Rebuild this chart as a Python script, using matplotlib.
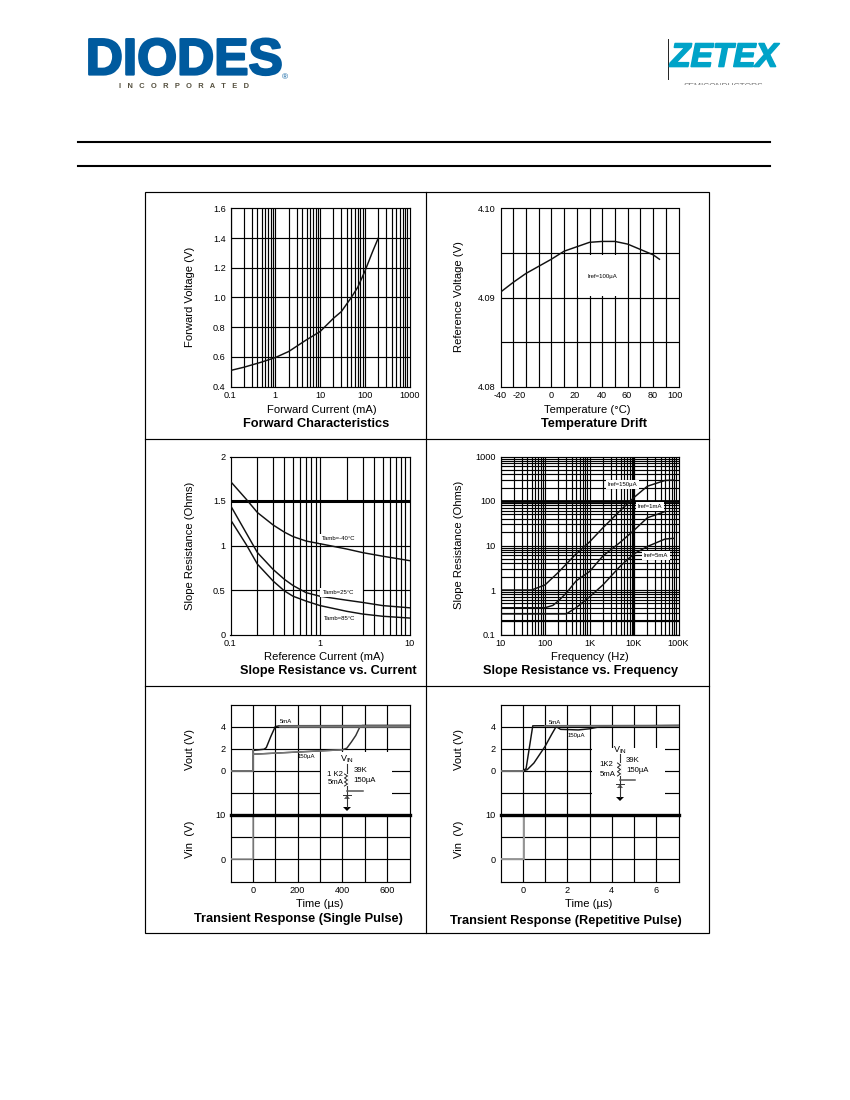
import matplotlib
matplotlib.use('Agg')
import matplotlib.pyplot as plt
import matplotlib.patheffects as pe
from matplotlib.patches import Rectangle, Polygon

plt.rcParams['font.family'] = ['Liberation Sans', 'DejaVu Sans']

# forward characteristics
fwd_i = [0.1, 0.2, 0.5, 1, 2, 5, 10, 20, 30, 50, 70, 100, 150, 200]
fwd_v = [0.508, 0.53, 0.565, 0.595, 0.636, 0.715, 0.77, 0.86, 0.905, 1.0, 1.07, 1.175, 1.31, 1.40]

# temperature drift
temp_t = [-40, -30, -20, -10, 0, 10, 20, 30, 40, 50, 60, 70, 80, 85]
temp_v = [4.0906, 4.0917, 4.0927, 4.0935, 4.0943, 4.0952, 4.0957, 4.0962, 4.0963, 4.0963,
          4.096, 4.0954, 4.0948, 4.0943]

# slope resistance vs current
sc_i = [0.1, 0.15, 0.2, 0.3, 0.4, 0.5, 0.7, 1, 2, 3, 5, 10]
sc_m40 = [1.72, 1.52, 1.37, 1.23, 1.15, 1.10, 1.05, 1.02, 0.96, 0.92, 0.88, 0.83]
sc_25 = [1.45, 1.14, 0.92, 0.73, 0.62, 0.55, 0.47, 0.43, 0.385, 0.36, 0.325, 0.30]
sc_85 = [1.29, 1.01, 0.79, 0.60, 0.49, 0.43, 0.375, 0.325, 0.26, 0.23, 0.205, 0.185]

# slope resistance vs frequency
sf_f1 = [10, 50, 100, 200, 500, 1000, 2000, 5000, 10000, 20000, 50000, 80000]
sf_150u = [1, 1, 1.3, 2.5, 6.5, 12, 25, 62, 120, 215, 290, 295]
sf_f2 = [10, 100, 150, 200, 300, 500, 1000, 2000, 5000, 10000, 20000, 50000]
sf_1m = [0.4, 0.4, 0.45, 0.57, 0.85, 1.6, 2.6, 5.8, 12, 22, 42, 58]
sf_f3 = [10, 300, 500, 1000, 2000, 5000, 10000, 20000, 50000, 80000]
sf_5m = [0.29, 0.29, 0.4, 0.7, 1.3, 3.5, 6.5, 9.5, 14, 14.5]

# single pulse
sp_t1 = [-100, 0, 0, 50, 60, 80, 100, 120, 700]
sp_5m = [0, 0, 1.85, 1.95, 2.1, 3.1, 4.0, 4.08, 4.1]
sp_t2 = [0, 400, 420, 440, 460, 480, 490, 700]
sp_150u = [1.5, 1.9, 2.05, 2.6, 3.2, 4.05, 4.1, 4.1]
sp_vin_t = [-100, 0, 0, 700]
sp_vin = [0, 0, 10, 10]

# repetitive pulse
rp_t1 = [-1, 0, 0.15, 0.45, 1, 7]
rp_5m = [0, 0, 0.2, 4.07, 4.08, 4.1]
rp_t2 = [0, 0.2, 0.5, 1, 1.3, 1.5, 1.7, 2.5, 3, 3.5, 4, 7]
rp_150u = [0, 0.1, 0.7, 2.2, 3.3, 4, 3.75, 3.7, 3.8, 4, 4.05, 4.1]
rp_vin_t = [-1, 0.05, 0.05, 7]
rp_vin = [0, 0, 10, 10]

W, H = 850, 1100
fig = plt.figure(figsize=(8.5, 11), dpi=100)
GRID = 0.85
TICK = 6.6


def make_ax(left, top, right, bottom):
    ax = fig.add_axes([left / W, 1 - bottom / H, (right - left) / W, (bottom - top) / H])
    ax.tick_params(length=0, labelsize=TICK, pad=3.5)
    for s in ax.spines.values():
        s.set_linewidth(GRID)
    return ax


def minor_values(lo, hi):
    vals = []
    d = lo
    while d < hi:
        vals += [d * k for k in range(1, 10)]
        d *= 10
    return vals


def vgrid(ax, vals, lw=GRID):
    for v in vals:
        ax.axvline(v, color='k', lw=lw, zorder=1)


def hgrid(ax, vals, lw=GRID):
    for v in vals:
        ax.axhline(v, color='k', lw=lw, zorder=1)


def curve(ax, x, y, color='#111111', lw=1.05):
    ax.plot(x, y, color=color, lw=lw, zorder=3)


def small(ax, x, y, s, box=False):
    kw = {}
    if box:
        kw['bbox'] = dict(facecolor='white', edgecolor='none', pad=1.5)
    ax.text(x, y, s, fontsize=4.3, ha='center', va='center', zorder=4, **kw)


# panel 1
ax1 = make_ax(230.5, 208.5, 409.5, 386.5)
ax1.set_xscale('log')
ax1.set_xlim(0.1, 1000)
ax1.set_ylim(0.4, 1.6)
vgrid(ax1, minor_values(0.1, 1000))
hgrid(ax1, [0.6, 0.8, 1.0, 1.2, 1.4])
curve(ax1, fwd_i, fwd_v)
ax1.set_xticks([0.1, 1, 10, 100, 1000], ['0.1', '1', '10', '100', '1000'])
ax1.minorticks_off()
ax1.set_yticks([0.4, 0.6, 0.8, 1.0, 1.2, 1.4, 1.6], ['0.4', '0.6', '0.8', '1.0', '1.2', '1.4', '1.6'])

# panel 2
ax2 = make_ax(500.5, 208.5, 678.5, 386.5)
vgrid(ax2, range(-30, 100, 10))
hgrid(ax2, [4.085, 4.09, 4.095])
ax2.add_patch(Rectangle((21, 4.0902), 38, 0.0046, fc='white', ec='none', zorder=2))
curve(ax2, temp_t, temp_v)
small(ax2, 40, 4.0924, 'Iref=100µA')
# the labels sit a little off the grid in the original
ax2.set_xticks([-40, -25, 0, 18.6, 40, 59.5, 80, 97], ['-40', '-20', '0', '20', '40', '60', '80', '100'])
ax2.set_yticks([4.08, 4.09, 4.10], ['4.08', '4.09', '4.10'])
ax2.set_xlim(-40, 100)
ax2.set_ylim(4.08, 4.10)

# panel 3
ax3 = make_ax(230.5, 456.5, 409.5, 634.5)
ax3.set_xscale('log')
ax3.set_xlim(0.1, 10)
ax3.set_ylim(0, 2)
vgrid(ax3, [v for v in minor_values(0.1, 10) if v != 2 and v != 0.1])
ax3.vlines(2, 1.5, 2, color='k', lw=GRID, zorder=1)
ax3.axhline(1, color='k', lw=GRID, zorder=1)
ax3.axhline(1.5, color='k', lw=2.2, zorder=1)
ax3.hlines(0.5, 0.1, 1, color='k', lw=GRID, zorder=1)
ax3.hlines(0.5, 3, 10, color='k', lw=GRID, zorder=1)
curve(ax3, sc_i, sc_m40)
curve(ax3, sc_i, sc_25)
curve(ax3, sc_i, sc_85)
small(ax3, 1.6, 1.075, 'Tamb=-40°C', box=True)
small(ax3, 1.6, 0.468, 'Tamb=25°C', box=True)
small(ax3, 1.67, 0.176, 'Tamb=85°C', box=True)
ax3.set_xticks([0.1, 1, 10], ['0.1', '1', '10'])
ax3.minorticks_off()
ax3.set_yticks([0, 0.5, 1, 1.5, 2], ['0', '0.5', '1', '1.5', '2'])

# panel 4
ax4 = make_ax(500.5, 456.5, 678.5, 634.5)
ax4.set_xscale('log')
ax4.set_yscale('log')
ax4.set_xlim(10, 100000)
ax4.set_ylim(0.1, 1000)
vgrid(ax4, minor_values(10, 100000))
hgrid(ax4, minor_values(0.1, 1000))
ax4.axvline(10000, color='k', lw=1.5, zorder=1)
ax4.axhline(100, color='k', lw=2.0, zorder=1)
ax4.axhline(0.2, color='k', lw=1.5, zorder=1)
curve(ax4, sf_f1, sf_150u)
curve(ax4, sf_f2, sf_1m)
curve(ax4, sf_f3, sf_5m)
small(ax4, 5500, 239, 'Iref=150µA', box=True)
small(ax4, 23000, 74, 'Iref=1mA', box=True)
small(ax4, 31000, 5.9, 'Iref=5mA', box=True)
ax4.set_xticks([10, 100, 1000, 10000, 100000], ['10', '100', '1K', '10K', '100K'])
ax4.set_yticks([0.1, 1, 10, 100, 1000], ['0.1', '1', '10', '100', '1000'])
ax4.minorticks_off()


def transient(left, right, xlim, grid_x, tick_x, tick_lab, box):
    up = make_ax(left, 704.5, right, 815)
    low = make_ax(left, 815, right, 881.5)
    up.set_xlim(*xlim)
    low.set_xlim(*xlim)
    up.set_ylim(-4, 6)
    low.set_ylim(-5, 10)
    for a in (up, low):
        vgrid(a, grid_x)
    hgrid(up, [4, 2, 0, -2])
    hgrid(low, [5, 0])
    up.add_patch(Rectangle((box[0], -3.9), box[1] - box[0], box[2] + 3.9, fc='white', ec='none', zorder=2))
    up.set_xticks([])
    up.set_yticks([0, 2, 4], ['0', '2', '4'])
    low.set_yticks([0, 10], ['0', '10'])
    low.set_xticks(tick_x, tick_lab)
    low.axhline(10, color='k', lw=2.4, zorder=5, clip_on=False)
    return up, low


# panel 5
up5, low5 = transient(230.5, 409.5, (-100, 700), range(0, 700, 100), [0, 200, 400, 600],
                      ['0', '200', '400', '600'], (303, 620, 1.7))
curve(up5, sp_t1, sp_5m)
curve(up5, sp_t2, sp_150u, color='#333333')
up5.plot([120, 700], [4.08, 4.08], color='#777777', lw=1.8, zorder=3)
up5.plot([-100, 0, 0], [0, 0, 1.85], color='#777777', lw=1.3, zorder=3)
up5.plot([0, 400], [1.5, 1.9], color='#777777', lw=1.0, zorder=3)
low5.plot(sp_vin_t, sp_vin, color='#999999', lw=1.1, zorder=3)
small(up5, 148, 4.45, '5mA')
small(up5, 240, 1.25, '150µA')

# panel 6
up6, low6 = transient(500.5, 678.5, (-1, 7), range(0, 7), [0, 2, 4, 6],
                      ['0', '2', '4', '6'], (3.1, 6.4, 2.05))
curve(up6, rp_t1, rp_5m)
curve(up6, rp_t2, rp_150u)
up6.plot([-1, 0], [0, 0], color='#777777', lw=1.3, zorder=3)
up6.plot([1, 7], [4.08, 4.08], color='#777777', lw=1.2, zorder=3)
low6.plot(rp_vin_t, rp_vin, color='#999999', lw=1.4, zorder=3)
small(up6, 1.45, 4.4, '5mA')
small(up6, 2.4, 3.2, '150µA')

# whole page overlay, pixel coordinates
pg = fig.add_axes([0, 0, 1, 1], zorder=10)
pg.set_xlim(0, W)
pg.set_ylim(H, 0)
pg.axis('off')
pg.patch.set_alpha(0)

pg.add_patch(Rectangle((145.5, 192), 564, 741, fc='none', ec='k', lw=0.85))
pg.plot([426.5, 426.5], [192, 933], color='k', lw=0.85)
pg.plot([145.5, 709.5], [438.5, 438.5], color='k', lw=0.85)
pg.plot([145.5, 709.5], [686, 686], color='k', lw=0.85)
pg.plot([78, 770], [142, 142], color='k', lw=1.5)
pg.plot([78, 770], [166, 166], color='k', lw=1.5)

x_labels = [(322, 410, 'Forward Current (mA)'), (587, 410, 'Temperature (°C)'),
            (324, 657, 'Reference Current (mA)'), (590, 657, 'Frequency (Hz)'),
            (320, 904, 'Time (µs)'), (589, 904, 'Time (µs)')]
y_labels = [(190, 297, 'Forward Voltage (V)'), (459, 297, 'Reference Voltage (V)'),
            (190, 546, 'Slope Resistance (Ohms)'), (459, 545, 'Slope Resistance (Ohms)'),
            (190, 750, 'Vout (V)'), (190, 839, 'Vin  (V)'),
            (459, 750, 'Vout (V)'), (459, 839, 'Vin  (V)')]
titles = [(316, 424, 'Forward Characteristics'), (594, 424, 'Temperature Drift'),
          (328, 671, 'Slope Resistance vs. Current'), (581, 671, 'Slope Resistance vs. Frequency'),
          (298, 919, 'Transient Response (Single Pulse)'), (566, 921, 'Transient Response (Repetitive Pulse)')]
for x, y, s in x_labels:
    pg.text(x, y, s, fontsize=8.1, ha='center', va='center')
for x, y, s in y_labels:
    pg.text(x, y, s, fontsize=8.1, ha='center', va='center', rotation=90)
for x, y, s in titles:
    pg.text(x, y, s, fontsize=9.2, fontweight='bold', ha='center', va='center')


def schematic(x, vin_y, top, zig0, zig1, branch_y, branch_x, zen_y, gnd_y, labels):
    pg.text(x, vin_y, 'V$_{\\mathregular{IN}}$', fontsize=6.5, ha='center', va='center')
    pg.plot([x, x], [top, gnd_y], color='#333333', lw=0.8)
    n = 6
    step = (zig1 - zig0) / n
    zx = [x - 1 + (1.5 if i % 2 else -1.5) for i in range(n + 1)]
    zy = [zig0 + i * step for i in range(n + 1)]
    pg.add_patch(Rectangle((x - 0.6, zig0), 1.2, zig1 - zig0, fc='white', ec='none', zorder=3))
    pg.plot(zx, zy, color='#222222', lw=0.7, zorder=4)
    pg.plot([x, branch_x], [branch_y, branch_y], color='#555555', lw=1.1)
    pg.add_patch(Polygon([(x - 3, zen_y + 3), (x + 3, zen_y + 3), (x, zen_y - 1)], fc='#666666', ec='none'))
    pg.plot([x - 4, x + 4], [zen_y - 1, zen_y - 1], color='#333333', lw=0.7)
    pg.add_patch(Polygon([(x - 4, gnd_y), (x + 4, gnd_y), (x, gnd_y + 4)], fc='k', ec='none'))
    for lx, ly, s in labels:
        pg.text(lx, ly, s, fontsize=5.6, ha='center', va='center')


schematic(347, 759, 764, 774, 786, 791, 363, 796, 807,
          [(335, 775, '1 K2'), (336, 783, '5mA'), (361, 771, '39K'), (365, 780, '150µA')])
schematic(620, 750, 754, 763, 776, 780, 635, 785, 797,
          [(606, 765, '1K2'), (608, 774, '5mA'), (633, 761, '39K'), (638, 771, '150µA')])

# logos
pg.text(184, 61, 'DIODES', fontsize=37, fontweight='bold', color='#005A9E', ha='center', va='center',
        path_effects=[pe.withStroke(linewidth=1.6, foreground='#005A9E')])
pg.plot([86, 176], [61.5, 61.5], color='white', lw=1.0)
pg.add_patch(Polygon([(163, 55), (176, 61.5), (163, 68)], fc='white', ec='none'))
pg.text(184, 87, 'I   N   C   O   R   P   O   R   A   T   E   D', fontsize=5.4, fontweight='bold',
        color='#55503f', ha='center', va='center')
pg.text(285, 78, '®', fontsize=6, color='#005A9E', ha='center', va='center')
pg.plot([668, 668], [39, 79], color='#222222', lw=0.7)
pg.text(724, 58, 'ZETEX', fontsize=24, fontweight='bold', fontstyle='italic', color='#00A3C8',
        ha='center', va='center', path_effects=[pe.withStroke(linewidth=1.2, foreground='#00A3C8')])
pg.text(723, 87, 'SEMICONDUCTORS', fontsize=6, color='#777777', ha='center', va='center')
pg.add_patch(Rectangle((670, 85), 110, 8, fc='white', ec='none', zorder=5))

fig.savefig('out.png', dpi=100)
